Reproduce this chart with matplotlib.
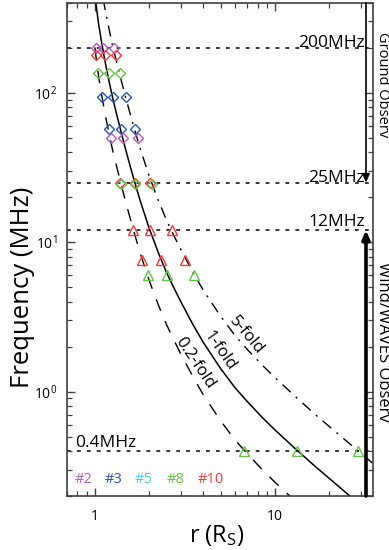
import numpy as np
import matplotlib
matplotlib.use("Agg")
import matplotlib.pyplot as plt
import matplotlib.transforms as mtransforms
from matplotlib.ticker import FixedLocator, FixedFormatter, NullFormatter

plt.rcParams['font.family'] = ['Open Sans', 'DejaVu Sans']
plt.rcParams['mathtext.fontset'] = 'custom'
plt.rcParams['mathtext.rm'] = 'Open Sans'
plt.rcParams['mathtext.it'] = 'Open Sans:italic'
plt.rcParams['mathtext.bf'] = 'Open Sans:bold'

# ---------------- data ----------------
# density-model curves (frequency in MHz vs heliocentric distance in R_S)
r_model = [1.00, 1.02, 1.05, 1.10, 1.15, 1.20, 1.25, 1.30, 1.40, 1.50, 1.60, 1.70,
           1.80, 2.00, 2.25, 2.50, 2.75, 3.00, 3.50, 4.0, 5.0, 6.0, 7.0, 8.5, 10.0,
           13.3, 17.0, 22.0, 29.0, 35.0]
f_1fold = [450, 370, 285, 203, 152, 118, 94, 77.3, 54.2, 39.4, 29.7, 23.0,
           18.3, 12.4, 8.5, 6.25, 4.92, 3.99, 2.81, 2.13, 1.42, 1.06, 0.86, 0.67, 0.553,
           0.403, 0.31, 0.238, 0.179, 0.148]
f_5fold = [1006, 827, 637, 454, 340, 264, 210, 173, 121, 88.1, 66.4, 51.4,
           40.9, 27.7, 19.0, 14.0, 11.0, 8.92, 6.28, 4.76, 3.18, 2.37, 1.92, 1.50, 1.24,
           0.90, 0.69, 0.53, 0.40, 0.33]
f_02fold = [201, 165, 127, 90.8, 68.0, 52.8, 42.0, 34.6, 24.2, 17.6, 13.3, 10.3,
            8.18, 5.55, 3.80, 2.80, 2.20, 1.78, 1.26, 0.95, 0.635, 0.474, 0.385, 0.30, 0.247,
            0.18, 0.139, 0.106, 0.080, 0.066]
curve_labels = ['0.2-fold', '1-fold', '5-fold']

# observed bursts: frequency and the distances on the 0.2-, 1- and 5-fold curves
events = ['#2', '#3', '#5', '#8', '#10']
event_colors = ['#b05cc0', '#2d55b5', '#55c8e6', '#66c24a', '#f03c3c']
marker_event = ['#2', '#10', '#8', '#3', '#3', '#2', '#10', '#8', '#10', '#10', '#8', '#8']
marker_freq = [200, 179, 135, 94, 57, 50, 25, 24.5, 12, 7.6, 6, 0.4]
marker_r_02 = [1.01, 1.01, 1.043, 1.098, 1.195, 1.226, 1.384, 1.398, 1.638, 1.836, 1.963, 6.76]
marker_r_1 = [1.103, 1.136, 1.191, 1.253, 1.393, 1.428, 1.665, 1.671, 2.016, 2.338, 2.525, 13.3]
marker_r_5 = [1.279, 1.302, 1.381, 1.490, 1.665, 1.724, 2.034, 2.087, 2.668, 3.178, 3.56, 29.0]
marker_kind = ['D', 'D', 'D', 'D', 'D', 'D', 'D', 'D', '^', '^', '^', '^']

# reference frequencies
ref_freqs = [200, 25, 12, 0.4]
ref_labels = ['200MHz', '25MHz', '12MHz', '0.4MHz']

x_ticks = [1, 10]
x_ticklabels = ['1', '10']
y_ticks = [1, 10, 100]
y_ticklabels = ['$10^0$', '$10^1$', '$10^2$']

# ---------------- figure ----------------
W, H = 389, 550
fig = plt.figure(figsize=(W / 100, H / 100), dpi=100)
L, R, T, B = 67, 373, 2.7, 496
ax = fig.add_axes([L / W, 1 - B / H, (R - L) / W, (B - T) / H])
ax.set_xscale('log')
ax.set_yscale('log')
ax.set_xlim(0.7, 35)
ax.set_ylim(0.2, 400)

# model curves
ax.plot(r_model, f_02fold, color='black', lw=1.0, ls=(0, (9, 8)))
ax.plot(r_model, f_1fold, color='black', lw=1.1, ls='-')
ax.plot(r_model, f_5fold, color='black', lw=1.0, ls=(0, (8, 5, 1.5, 5)))

# reference lines
for f in ref_freqs:
    ax.axhline(f, color='black', lw=1.1, ls=(0, (2.5, 4)), zorder=1)

# markers
col_of = dict(zip(events, event_colors))
for i in range(len(marker_freq)):
    c = col_of[marker_event[i]]
    ax.plot([marker_r_02[i], marker_r_1[i], marker_r_5[i]], [marker_freq[i]] * 3,
            ls='none', marker=marker_kind[i], ms=5.2 if marker_kind[i] == 'D' else 7,
            mfc='none', mec=c, mew=1.0, zorder=3)

# reference labels
trans = mtransforms.blended_transform_factory(ax.transAxes, ax.transData)
lab_x = [0.975, 0.975, 0.975, 0.026]
lab_ha = ['right', 'right', 'right', 'left']
lab_dy = [0.5, 1.0, 4.0, 4.5]
for f, s, x, ha, dy in zip(ref_freqs, ref_labels, lab_x, lab_ha, lab_dy):
    t = mtransforms.offset_copy(trans, fig=fig, x=0, y=dy, units='dots')
    ax.text(x, f, s, transform=t, ha=ha, va='baseline', fontsize=12.5, color='black')

# curve labels
lab_pos = [(3.58, 1.54, -56), (4.92, 1.88, -55), (6.94, 2.37, -50)]
for (x, y, rot), s in zip(lab_pos, curve_labels):
    ax.text(x, y, s, ha='center', va='center', rotation=rot, rotation_mode='anchor',
            fontsize=12, color='black')

# event legend
ev_x = [0.026, 0.124, 0.222, 0.327, 0.428]
for x, s, c in zip(ev_x, events, event_colors):
    ax.text(x, 0.034, s, transform=ax.transAxes, ha='left', va='center',
            fontsize=10.5, color=c)

# observation arrows
ax.annotate('', xy=(32, 25), xytext=(32, 400),
            arrowprops=dict(arrowstyle='-|>,head_length=0.5,head_width=0.22',
                            color='black', lw=1.2, shrinkA=0, shrinkB=0))
ax.annotate('', xy=(32, 12), xytext=(32, 0.2),
            arrowprops=dict(arrowstyle='-|>,head_length=0.5,head_width=0.22',
                            color='black', lw=2.6, shrinkA=0, shrinkB=0))
fig.text(375 / W, 1 - 32 / H, 'Ground Observ', rotation=270, ha='left', va='top',
         fontsize=10.5, color='black')
fig.text(375 / W, 1 - 262 / H, 'Wind/WAVES Observ', rotation=270, ha='left', va='top',
         fontsize=12, color='black')

# axes styling
for sp in ax.spines.values():
    sp.set_color('#404040')
    sp.set_linewidth(1.2)
ax.xaxis.set_major_locator(FixedLocator(x_ticks))
ax.xaxis.set_major_formatter(FixedFormatter(x_ticklabels))
ax.xaxis.set_minor_formatter(NullFormatter())
ax.yaxis.set_major_locator(FixedLocator(y_ticks))
ax.yaxis.set_major_formatter(FixedFormatter(y_ticklabels))
ax.yaxis.set_minor_formatter(NullFormatter())
ax.tick_params(which='both', direction='in', top=True, right=True, color='#404040',
               labelsize=10)
ax.tick_params(which='major', length=6, width=1.0)
ax.tick_params(which='minor', length=3.5, width=0.9)
ax.tick_params(axis='x', pad=9)
ax.tick_params(axis='y', pad=7)

ax.set_ylabel('Frequency (MHz)', fontsize=18.5)
ax.yaxis.set_label_coords(-0.104, 0.424)
ax.set_xlabel('r (R$_\\mathrm{S}$)', fontsize=17)
ax.xaxis.set_label_coords(0.49, -0.0547)

fig.savefig('out.png', dpi=100)
